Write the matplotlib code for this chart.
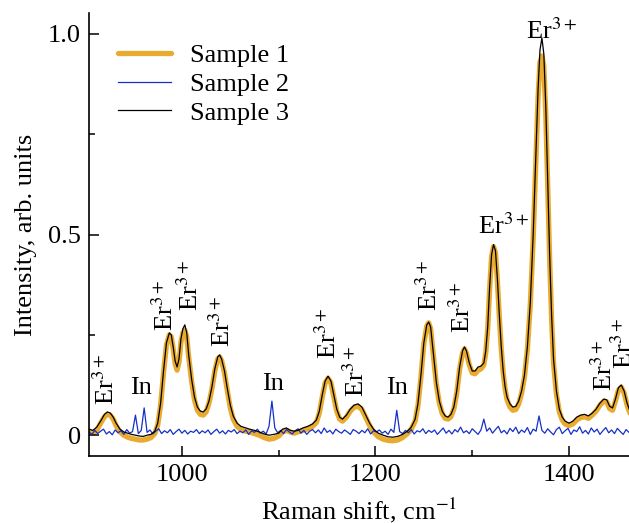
import numpy as np
import matplotlib
matplotlib.use("Agg")
import matplotlib.pyplot as plt
from matplotlib.ticker import MultipleLocator

plt.rcParams['font.family'] = ['Liberation Serif', 'DejaVu Serif']
plt.rcParams['mathtext.fontset'] = 'stix'
plt.rcParams['font.size'] = 19

# Raman shift grid shared by samples 1 and 3 (cm^-1)
shift = [904, 908, 912, 916, 920, 923, 926, 929, 932, 936,
         940, 944, 948, 952, 956, 960, 964, 968, 972, 975,
         978, 981, 984, 987, 989, 991, 993, 995, 997, 999,
         1001, 1003, 1005, 1007, 1010, 1013, 1016, 1019, 1022, 1025,
         1028, 1031, 1034, 1037, 1039, 1041, 1044, 1047, 1050, 1053,
         1057, 1061, 1066, 1070, 1075, 1080, 1085, 1090, 1095, 1100,
         1104, 1108, 1112, 1116, 1120, 1125, 1130, 1135, 1139, 1142,
         1145, 1148, 1151, 1154, 1157, 1160, 1163, 1166, 1170, 1174,
         1178, 1182, 1186, 1190, 1194, 1198, 1203, 1208, 1213, 1218,
         1223, 1228, 1233, 1237, 1241, 1244, 1247, 1250, 1253, 1255,
         1257, 1260, 1263, 1266, 1269, 1272, 1275, 1278, 1281, 1284,
         1287, 1290, 1292, 1294, 1297, 1300, 1303, 1306, 1309, 1312,
         1314, 1316, 1318, 1320, 1322, 1324, 1326, 1328, 1330, 1332,
         1334, 1336, 1339, 1342, 1345, 1348, 1351, 1354, 1357, 1360,
         1363, 1366, 1368, 1370, 1372, 1374, 1376, 1378, 1380, 1382,
         1384, 1387, 1390, 1393, 1396, 1400, 1404, 1408, 1412, 1416,
         1420, 1424, 1428, 1432, 1436, 1439, 1442, 1445, 1448, 1451,
         1454, 1457, 1460, 1463]

sample1 = [0.010, 0.005, 0.012, 0.030, 0.046, 0.052, 0.050, 0.040, 0.024, 0.008,
           0.000, -0.005, -0.008, -0.010, -0.012, -0.012, -0.010, -0.006, 0.004, 0.025,
           0.075, 0.155, 0.225, 0.250, 0.245, 0.215, 0.178, 0.162, 0.182, 0.232,
           0.255, 0.262, 0.245, 0.195, 0.135, 0.088, 0.062, 0.052, 0.050, 0.058,
           0.080, 0.115, 0.160, 0.190, 0.195, 0.186, 0.155, 0.110, 0.068, 0.040,
           0.022, 0.014, 0.010, 0.008, 0.004, 0.000, -0.006, -0.010, -0.008, -0.002,
           0.008, 0.012, 0.008, 0.005, 0.008, 0.012, 0.016, 0.022, 0.032, 0.055,
           0.095, 0.130, 0.142, 0.130, 0.095, 0.060, 0.040, 0.035, 0.045, 0.060,
           0.070, 0.072, 0.064, 0.044, 0.024, 0.008, -0.004, -0.010, -0.013, -0.014,
           -0.012, -0.006, 0.004, 0.015, 0.035, 0.075, 0.145, 0.228, 0.272, 0.280,
           0.266, 0.195, 0.125, 0.080, 0.054, 0.042, 0.040, 0.046, 0.065, 0.105,
           0.165, 0.205, 0.215, 0.205, 0.175, 0.155, 0.153, 0.162, 0.165, 0.175,
           0.205, 0.265, 0.365, 0.445, 0.470, 0.455, 0.385, 0.295, 0.215, 0.155,
           0.115, 0.088, 0.070, 0.062, 0.064, 0.078, 0.104, 0.145, 0.215, 0.325,
           0.490, 0.700, 0.840, 0.930, 0.945, 0.920, 0.800, 0.625, 0.440, 0.290,
           0.180, 0.102, 0.058, 0.038, 0.028, 0.024, 0.028, 0.038, 0.044, 0.046,
           0.042, 0.050, 0.060, 0.075, 0.085, 0.083, 0.066, 0.062, 0.085, 0.112,
           0.120, 0.105, 0.075, 0.055]

sample3 = [0.015, 0.012, 0.020, 0.035, 0.052, 0.058, 0.055, 0.045, 0.030, 0.015,
           0.008, 0.005, 0.002, 0.000, -0.002, -0.003, 0.000, 0.002, 0.010, 0.030,
           0.080, 0.160, 0.230, 0.255, 0.250, 0.220, 0.185, 0.170, 0.190, 0.240,
           0.265, 0.275, 0.255, 0.200, 0.140, 0.095, 0.070, 0.060, 0.058, 0.065,
           0.085, 0.120, 0.165, 0.195, 0.200, 0.190, 0.160, 0.115, 0.075, 0.048,
           0.030, 0.022, 0.018, 0.015, 0.012, 0.008, 0.003, 0.000, 0.002, 0.005,
           0.015, 0.018, 0.012, 0.010, 0.012, 0.018, 0.022, 0.028, 0.038, 0.060,
           0.100, 0.135, 0.147, 0.135, 0.100, 0.065, 0.045, 0.040, 0.050, 0.065,
           0.075, 0.078, 0.070, 0.050, 0.030, 0.015, 0.005, 0.000, -0.004, -0.005,
           -0.003, 0.002, 0.010, 0.020, 0.040, 0.080, 0.150, 0.230, 0.275, 0.282,
           0.270, 0.200, 0.130, 0.085, 0.060, 0.048, 0.045, 0.052, 0.070, 0.110,
           0.170, 0.210, 0.220, 0.210, 0.180, 0.160, 0.160, 0.170, 0.172, 0.180,
           0.210, 0.270, 0.370, 0.450, 0.475, 0.460, 0.390, 0.300, 0.220, 0.160,
           0.120, 0.095, 0.078, 0.070, 0.072, 0.085, 0.110, 0.150, 0.220, 0.330,
           0.500, 0.720, 0.860, 0.960, 0.990, 0.950, 0.820, 0.640, 0.450, 0.300,
           0.190, 0.110, 0.065, 0.045, 0.035, 0.030, 0.035, 0.045, 0.050, 0.052,
           0.048, 0.055, 0.065, 0.080, 0.090, 0.088, 0.072, 0.068, 0.090, 0.118,
           0.125, 0.110, 0.080, 0.060]

# sample 2, read every ~3 cm^-1 from 904 to 1462
sample2 = [0.008, 0.002, 0.012, 0.004, 0.010, 0.015, 0.003, 0.009, 0.001, 0.013,
           0.006, 0.011, 0.002, 0.014, 0.005, 0.009, 0.050, 0.004, 0.012, 0.068,
           0.007, 0.013, 0.003, 0.010, 0.016, 0.004, 0.011, 0.006, 0.014, 0.002,
           0.009, 0.015, 0.005, 0.012, 0.003, 0.010, 0.007, 0.014, 0.004, 0.011,
           0.006, 0.013, 0.002, 0.009, 0.015, 0.005, 0.011, 0.003, 0.012, 0.008,
           0.014, 0.004, 0.010, 0.006, 0.013, 0.002, 0.011, 0.007, 0.015, 0.005,
           0.010, 0.003, 0.022, 0.085, 0.018, 0.006, 0.012, 0.004, 0.014, 0.008,
           0.003, 0.011, 0.016, 0.005, 0.012, 0.002, 0.010, 0.014, 0.006, 0.013,
           0.004, 0.018, 0.007, 0.012, 0.003, 0.015, 0.009, 0.005, 0.013, 0.008,
           0.002, 0.014, 0.010, 0.004, 0.012, 0.006, 0.016, 0.003, 0.011, 0.008,
           0.013, 0.005, 0.010, 0.002, 0.015, 0.007, 0.062, 0.009, 0.004, 0.012,
           0.006, 0.014, 0.003, 0.011, 0.008, 0.016, 0.004, 0.012, 0.007, 0.013,
           0.002, 0.010, 0.018, 0.005, 0.012, 0.003, 0.014, 0.008, 0.020, 0.006,
           0.011, 0.004, 0.016, 0.009, 0.002, 0.013, 0.040, 0.010, 0.018, 0.005,
           0.014, 0.022, 0.006, 0.012, 0.003, 0.017, 0.009, 0.020, 0.004, 0.013,
           0.007, 0.019, 0.002, 0.015, 0.010, 0.048, 0.012, 0.005, 0.016, 0.008,
           0.001, 0.014, 0.020, 0.004, 0.011, 0.017, 0.002, 0.013, 0.009, 0.021,
           0.005, 0.012, 0.003, 0.018, 0.008, 0.015, 0.002, 0.011, 0.019, 0.006,
           0.013, 0.004, 0.017, 0.009, 0.002, 0.014, 0.007]
shift2 = np.linspace(904, 1462, len(sample2))

# peak labels
er = r"Er$^{3+}$"
label_x = [922, 958, 983, 1008, 1041, 1094, 1151, 1180, 1222, 1255, 1290, 1332, 1382, 1436, 1457]
label_y = [0.075, 0.09, 0.26, 0.31, 0.22, 0.10, 0.19, 0.095, 0.09, 0.31, 0.255, 0.49, 0.975, 0.11, 0.165]
label_text = [er, "In", er, er, er, "In", er, er, "In", er, er, er, er, er, er]
label_rot = [90, 0, 90, 90, 90, 0, 90, 90, 0, 90, 90, 0, 0, 90, 90]

fig = plt.figure(figsize=(6.29, 5.23), dpi=100)
ax = fig.add_axes([0.1415, 0.128, 0.8585, 0.847])

ax.plot(shift, sample1, color='#E9AB2F', lw=3.8, label='Sample 1', solid_capstyle='round', zorder=1)
ax.plot(shift2, sample2, color='#1530C8', lw=0.9, label='Sample 2', zorder=2)
ax.plot(shift, sample3, color='black', lw=0.9, label='Sample 3', zorder=3)

for x, y, t, r in zip(label_x, label_y, label_text, label_rot):
    ax.text(x, y, t, rotation=r, ha='center', va='bottom', clip_on=False)

ax.set_xlim(904, 1462)
ax.set_ylim(-0.052, 1.052)
ax.xaxis.set_major_locator(MultipleLocator(200))
ax.xaxis.set_minor_locator(MultipleLocator(100))
ax.yaxis.set_minor_locator(MultipleLocator(0.25))
ax.set_yticks([0, 0.5, 1.0])
ax.set_yticklabels(['0', '0.5', '1.0'])

ax.tick_params(which='both', direction='in', width=1.1)
ax.tick_params(which='major', length=7, pad=6)
ax.tick_params(which='minor', length=4)
for side in ['top', 'right']:
    ax.spines[side].set_visible(False)
for side in ['left', 'bottom']:
    ax.spines[side].set_linewidth(1.2)

ax.set_xlabel(r"Raman shift, cm$^{-1}$", labelpad=7)
ax.set_ylabel("Intensity, arb. units", labelpad=8)

ax.legend(loc='upper left', bbox_to_anchor=(0.035, 0.955), frameon=False,
          handlelength=2.0, handletextpad=0.7, labelspacing=0.2, borderaxespad=0)

fig.savefig('out.png', dpi=100)
